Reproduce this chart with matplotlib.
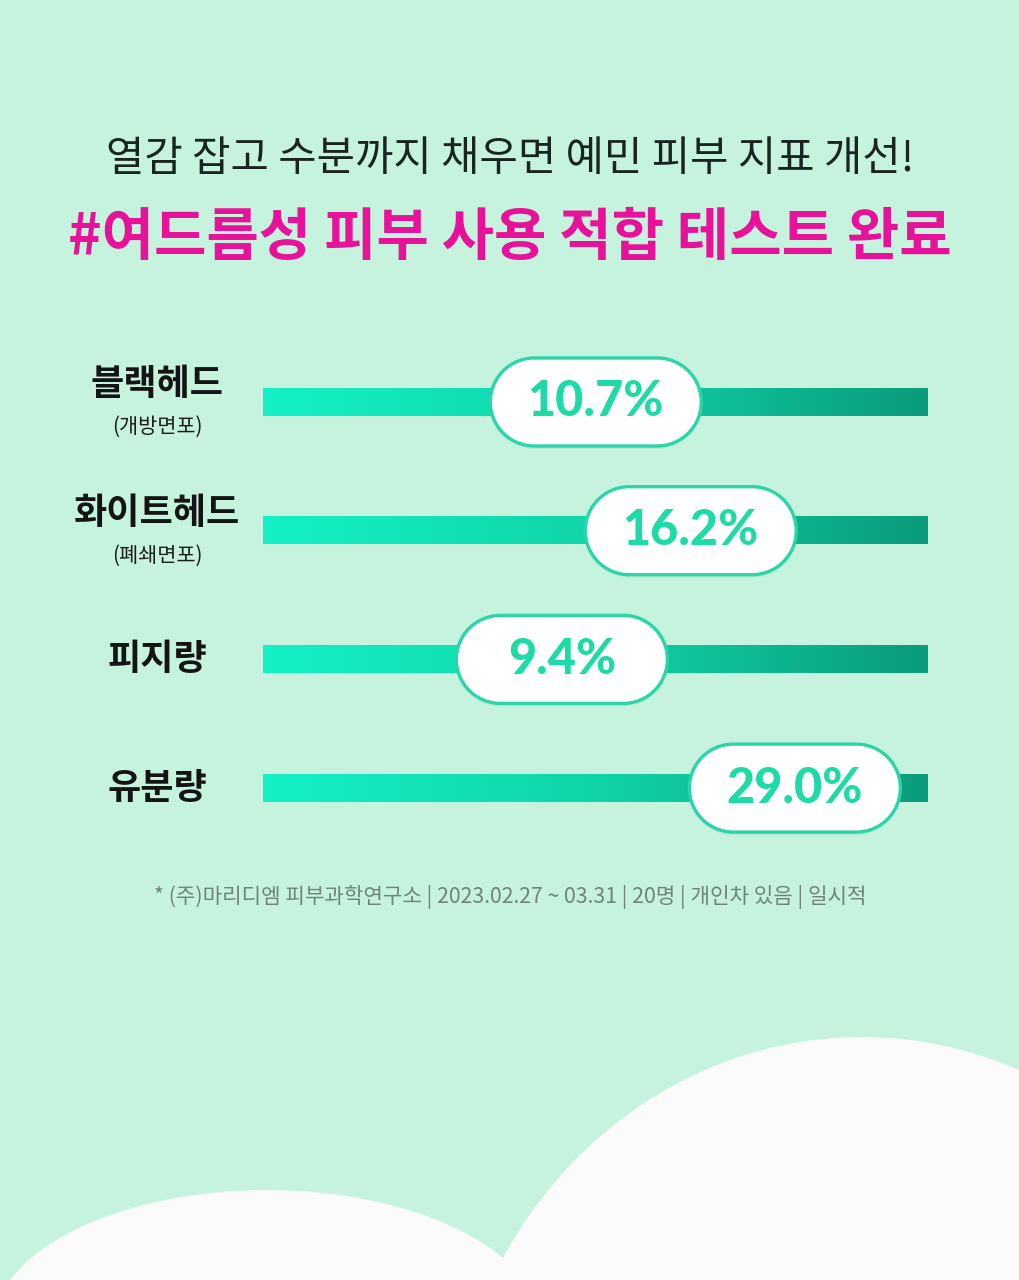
"""Skin indicator improvement chart (pill markers on gradient tracks)."""

import matplotlib

matplotlib.use("Agg")
import matplotlib.pyplot as plt
import matplotlib.transforms as mtransforms
import numpy as np
from matplotlib.colors import LinearSegmentedColormap
from matplotlib.patches import Ellipse, PathPatch
from matplotlib.path import Path

plt.rcParams["font.family"] = ["Noto Sans CJK KR", "DejaVu Sans"]

# data
categories = ["블랙헤드", "화이트헤드", "피지량", "유분량"]
sub_labels = ["(개방면포)", "(폐쇄면포)", "", ""]
values = [10.7, 16.2, 9.4, 29.0]
value_labels = [f"{v:.1f}%" for v in values]

title = "열감 잡고 수분까지 채우면 예민 피부 지표 개선!"
headline = "#여드름성 피부 사용 적합 테스트 완료"
footnote = "* (주)마리디엠 피부과학연구소 | 2023.02.27 ~ 03.31 | 20명 | 개인차 있음 | 일시적"

BG = "#c6f3dd"
CLOUD = "#fbfbfb"
PILL_EDGE = "#2ad5a8"
PILL_TEXT = "#1ddaa6"
MAGENTA = "#e8129a"
track_cmap = LinearSegmentedColormap.from_list("track", ["#14f1c5", "#10d4a8", "#0a9c7b"])


def pill_path(width: float, height: float) -> Path:
    """Stadium shape centred on (0, 0), in inches."""
    r = height / 2
    half = width / 2 - r
    right = Path.arc(-90, 90)
    left = Path.arc(90, 270)
    verts = np.vstack([
        right.vertices * r + [half, 0],
        left.vertices * r + [-half, 0],
        [[half, -r]],
    ])
    codes = np.concatenate([
        right.codes,
        np.where(left.codes == Path.MOVETO, Path.LINETO, left.codes),
        [Path.CLOSEPOLY],
    ])
    return Path(verts, codes)


W, H = 1020, 1280
fig = plt.figure(figsize=(W / 100, H / 100), dpi=100)
fig.patch.set_facecolor(BG)

# pixel canvas for headings, footnote and the clouds
bg = fig.add_axes([0, 0, 1, 1])
bg.set_xlim(0, W)
bg.set_ylim(H, 0)
bg.axis("off")
bg.set_zorder(0)
bg.add_patch(Ellipse((267, 1330), 550, 280, color=CLOUD, lw=0))
bg.add_patch(Ellipse((862, 1480), 830, 886, color=CLOUD, lw=0))

bg.text(510, 160, title, ha="center", va="center", fontsize=30, color="#1a2420", fontweight="medium")
bg.text(510, 238, headline, ha="center", va="center", fontsize=41, color=MAGENTA, fontweight="heavy")
bg.text(510, 897, footnote, ha="center", va="center", fontsize=15.3, color="#70847a")

# chart area
n = len(categories)
row_px = 128.7
top_px = 402 - row_px / 2
rect = [263 / W, (H - (top_px + n * row_px)) / H, 665 / W, n * row_px / H]

tracks = fig.add_axes(rect)
tracks.set_zorder(1)
tracks.axis("off")
grad = np.linspace(0, 1, 256).reshape(1, -1)
bar_h = 0.21
for i in range(n):
    tracks.imshow(grad, cmap=track_cmap, aspect="auto", extent=(0, 1, i + bar_h / 2, i - bar_h / 2))
tracks.set_xlim(0, 1)
tracks.set_ylim(n - 0.5, -0.5)

ax = fig.add_axes(rect)
ax.set_zorder(2)
ax.patch.set_alpha(0)
ax.axis("off")
ax.set_xscale(
    "function",
    functions=(
        lambda v: -1 / np.sqrt(np.clip(v, 1e-9, None)),
        lambda u: 1 / np.square(np.clip(-u, 1e-9, None)),
    ),
)
ax.set_xlim(3.9, 90)
ax.set_ylim(n - 0.5, -0.5)
ax.set_autoscale_on(False)

pill = pill_path(2.11, 0.88)
for i, (v, lab) in enumerate(zip(values, value_labels)):
    at = mtransforms.ScaledTranslation(v, i, ax.transData)
    shadow_tr = fig.dpi_scale_trans + mtransforms.Affine2D().translate(0, -3) + at
    ax.add_patch(PathPatch(pill, transform=shadow_tr, fc="#0b5c45", alpha=0.06, lw=0, clip_on=False))
    ax.add_patch(PathPatch(pill, transform=fig.dpi_scale_trans + at, fc="white", ec=PILL_EDGE,
                           lw=2.4, clip_on=False))
    ax.text(v, i, lab, ha="center", va="center", fontsize=35, color=PILL_TEXT,
            family=["Lato", "DejaVu Sans"], fontweight="black")

# row labels: x in canvas pixels, y on the chart rows
label_tr = mtransforms.blended_transform_factory(bg.transData, ax.transData)
for i, (cat, sub) in enumerate(zip(categories, sub_labels)):
    dy = 17 if sub else 0
    ax.annotate(cat, xy=(157, i), xycoords=label_tr, xytext=(0, dy), textcoords="offset pixels",
                ha="center", va="center", fontsize=26, fontweight="bold", color="#141414")
    if sub:
        ax.annotate(sub, xy=(157, i), xycoords=label_tr, xytext=(0, -25), textcoords="offset pixels",
                    ha="center", va="center", fontsize=15, color="#1e1e1e")

fig.savefig("out.png", dpi=100, facecolor=BG)
plt.close(fig)
